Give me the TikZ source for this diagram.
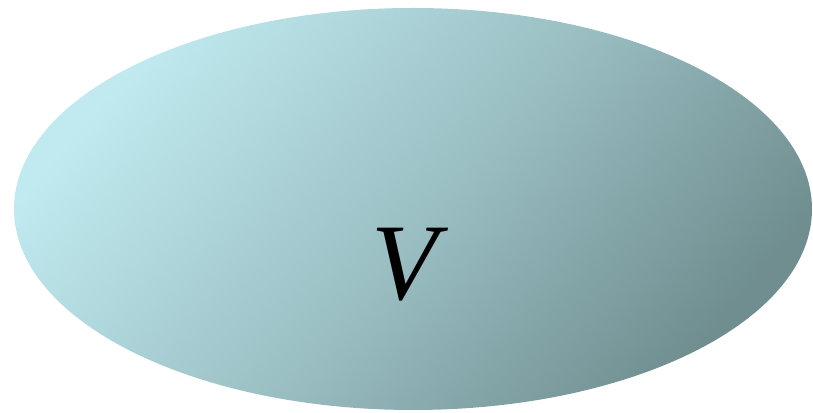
\documentclass[tikz,border=0pt]{standalone}
\usepackage{fontspec}
\setmainfont{Liberation Serif}
\usetikzlibrary{shapes.geometric}
\definecolor{setlight}{RGB}{192,234,240}
\definecolor{setdark}{RGB}{112,142,144}
\tikzset{
	setshape/.style={ellipse, minimum width=7.98cm, minimum height=4.02cm, inner sep=0pt,
		top color=setlight, bottom color=setdark, middle color=setlight!55!setdark, shading angle=50},
	setlabel/.style={font=\fontsize{31}{36}\selectfont\itshape}
}
\begin{document}
\begin{tikzpicture}
		\useasboundingbox (0,0) rectangle (8.13,4.13);
		\node[setshape] (setV) at (4.13,2.04) {};
		\node[setlabel] (labelV) at (4.05,1.48) {V};
	\end{tikzpicture}
\end{document}
